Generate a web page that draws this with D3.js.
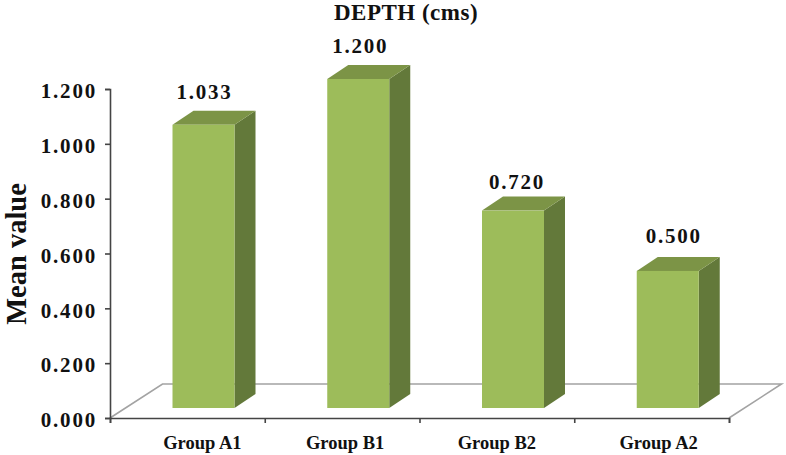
<!DOCTYPE html>
<html><head><meta charset="utf-8">
<script src="https://cdnjs.cloudflare.com/ajax/libs/d3/7.8.5/d3.min.js"></script>
<style>html,body{margin:0;padding:0;background:#fff}svg{display:block}text{font-family:"Liberation Serif",serif;font-weight:bold;fill:#111}</style>
</head><body><svg id="c" width="786" height="455"></svg>
<script>
const categories = ["Group A1","Group B1","Group B2","Group A2"];
const values = [1.033,1.200,0.720,0.500];
const yTicks = [0,0.2,0.4,0.6,0.8,1.0,1.2];
const title = "DEPTH (cms)";
const yTitle = "Mean value";

const svg = d3.select("#c");
const x0=110,x1=729,yB=418,yT=89,dx=21,dy=14,lift=10;
const x = d3.scaleBand().domain(categories).range([x0,x1]).paddingInner(0);
const y = d3.scaleLinear().domain([0,1.2]).range([yB,yT]);
const bw = 62, inset = 62.5;
// hand placement of labels, as in the reference
const valueNudgeX = [0,1,3,5], valueNudgeY = [-12,-12,-8,-14], catNudgeX = [15,3,0,7];

// floor
const fdx=52.5, fdy=34;
svg.append("path")
 .attr("d",d3.line()([[x0,yB],[x0+fdx,yB-fdy],[x1+fdx,yB-fdy],[x1,yB]]))
 .attr("fill","none").attr("stroke","#a3a3a3").attr("stroke-width",1.6);

// bars
const g = svg.selectAll("g.bar").data(categories.map((c,i)=>({c,v:values[i],i}))).join("g").attr("class","bar");
const L = d3.line();
g.each(function(d){
  const s=d3.select(this), l=x(d.c)+inset, r=l+bw, t=y(d.v)-lift, b=y(0)-lift;
  s.append("path").attr("d",L([[r,t],[r+dx,t-dy],[r+dx,b-dy],[r,b]])+"Z").attr("fill","#63793a");
  s.append("path").attr("d",L([[l,t],[l+dx,t-dy],[r+dx,t-dy],[r,t]])+"Z").attr("fill","#7c9446");
  s.append("rect").attr("x",l).attr("y",t).attr("width",bw).attr("height",b-t).attr("fill","#9dbc5a");
  s.append("text").attr("x",(l+r)/2+valueNudgeX[d.i]+1).attr("y",t-dy+valueNudgeY[d.i]).attr("text-anchor","middle")
    .attr("font-size",21).attr("letter-spacing",1.8).text(d.v.toFixed(3));
});

// axes
const ax = svg.append("g").attr("transform",`translate(${x0},0)`)
  .call(d3.axisLeft(y).tickValues(yTicks).tickFormat(d3.format(".3f")).tickSize(5).tickPadding(8));
ax.selectAll("path,line").attr("stroke","#444").attr("stroke-width",1.6);
ax.selectAll("text").attr("font-size",21).attr("letter-spacing",1.8).attr("dy","0.42em").attr("font-family","Liberation Serif").attr("fill","#111");

const bx = svg.append("g").attr("transform",`translate(0,${yB})`)
  .call(d3.axisBottom(d3.scalePoint().domain(d3.range(5)).range([x0,x1])).tickValues(d3.range(5)).tickFormat("").tickSize(5));
bx.selectAll("path,line").attr("stroke","#444").attr("stroke-width",1.6);
svg.selectAll("text.cat").data(categories).join("text").attr("class","cat")
  .attr("x",(d,i)=>x(d)+x.bandwidth()/2+catNudgeX[i]).attr("y",yB+31).attr("text-anchor","middle")
  .attr("font-size",18.5).text(d=>d);

svg.append("text").attr("x",406).attr("y",20).attr("text-anchor","middle").attr("font-size",23).attr("letter-spacing",0.5).text(title);
svg.append("text").attr("transform","translate(25.5,254) rotate(-90)").attr("text-anchor","middle").attr("font-size",28.5).text(yTitle);
</script></body></html>
